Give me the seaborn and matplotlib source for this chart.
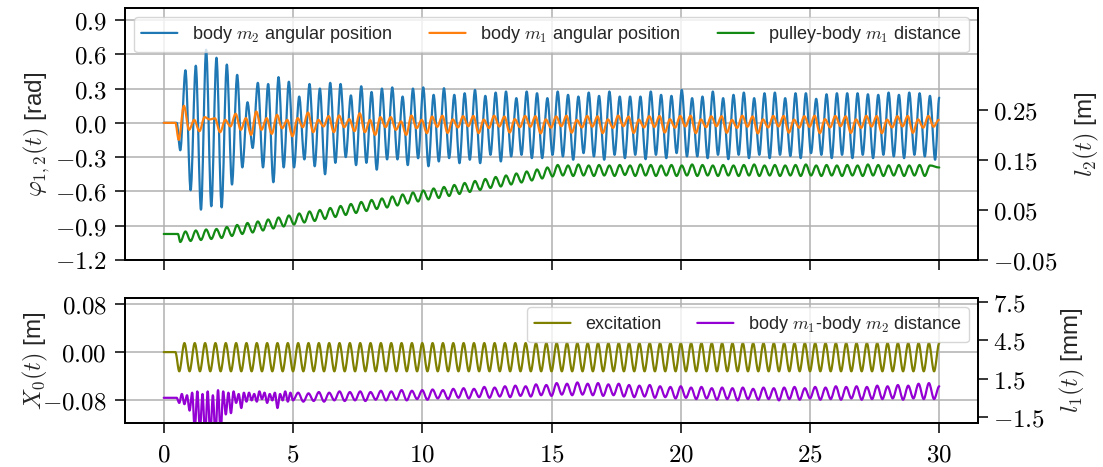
import numpy as np
import pandas as pd
import matplotlib
matplotlib.use("Agg")
import matplotlib.pyplot as plt
from matplotlib.ticker import FixedLocator, FuncFormatter
from matplotlib.patheffects import AbstractPathEffect
from matplotlib.path import Path
import seaborn as sns

# ---------------------------------------------------------------- data
T_END = 30.0          # end of simulation [s]
HALF = 0.2            # spacing between successive extrema [s]

# body m2 angular position [rad]: successive extrema from t = 0.64 s
phi2_start = 0.64
phi2_ext = [
    -0.24, 0.46, -0.59, 0.50, -0.76, 0.64, -0.73, 0.57, -0.74, 0.51,
    -0.54, 0.42, -0.39, 0.18, -0.22, 0.35, -0.39, 0.34, -0.52, 0.40,
    -0.39, 0.36, -0.39, 0.23, -0.32, 0.34, -0.38, 0.30, -0.45, 0.35,
    -0.35, 0.34, -0.30, 0.24, -0.37, 0.32, -0.35, 0.27, -0.41, 0.30,
    -0.32, 0.31, -0.32, 0.23, -0.37, 0.30, -0.31, 0.31, -0.38,
    0.245, -0.338, 0.303, -0.309, 0.245, -0.353, 0.259, -0.323, 0.288, -0.353,
    0.236, -0.280, 0.265, -0.338, 0.274, -0.294, 0.216, -0.280, 0.274, -0.309,
    0.259, -0.309, 0.216, -0.280, 0.274, -0.294, 0.245, -0.323, 0.230, -0.265,
    0.265, -0.294, 0.236, -0.323, 0.274, -0.280, 0.230, -0.309, 0.230, -0.280,
    0.230, -0.318, 0.274, -0.280, 0.245, -0.309, 0.236, -0.265, 0.288, -0.294,
    0.216, -0.294, 0.230, -0.309, 0.274, -0.280, 0.216, -0.318, 0.245, -0.280,
    0.265, -0.309, 0.216, -0.280, 0.259, -0.309, 0.265, -0.280, 0.216, -0.290,
    0.259, -0.309, 0.259, -0.265, 0.210, -0.280, 0.250, -0.309, 0.259, -0.280,
    0.259, -0.309, 0.259, -0.280, 0.250, -0.309, 0.245, -0.280, 0.265, -0.294,
    0.245, -0.309, 0.265, -0.280, 0.259, -0.294, 0.236, -0.323,
]
phi2_end = 0.22

# body m1 angular position [rad]: successive extrema from t = 0.58 s
phi1_start = 0.58
phi1_ext = [
    -0.149, 0.149, -0.061, 0.026, -0.073, 0.050, 0.030, 0.040, -0.082, 0.026,
    -0.032, 0.079, -0.061, 0.041, -0.105, 0.099, -0.061, 0.041, -0.096, 0.070,
    -0.047, 0.026, -0.117, 0.041, -0.038, 0.090, -0.082, 0.026, -0.032, 0.059,
    -0.082, 0.064, -0.038, 0.032, -0.073, 0.084, -0.082, 0.026, -0.105, 0.050,
    -0.038, 0.050, -0.061, 0.012, -0.105, 0.064, -0.047, 0.026, -0.090,
    0.055, -0.035, 0.062, -0.088, 0.030, -0.040,
    0.058, -0.030, 0.060, -0.090, 0.028, -0.045,
    0.062, -0.032, 0.055, -0.085, 0.032, -0.038,
    0.060, -0.035, 0.058, -0.092, 0.030, -0.042,
    0.056, -0.030, 0.062, -0.086, 0.025, -0.040,
    0.060, -0.034, 0.057, -0.090, 0.030, -0.044,
    0.063, -0.030, 0.055, -0.088, 0.028, -0.040,
    0.058, -0.036, 0.060, -0.085, 0.032, -0.042,
    0.060, -0.032, 0.062, -0.090, 0.030, -0.038,
    0.057, -0.030, 0.058, -0.087, 0.026, -0.044,
    0.062, -0.034, 0.056, -0.092, 0.030, -0.040,
    0.060, -0.032, 0.060, -0.086, 0.028, -0.042,
    0.058, -0.035, 0.062, -0.090, 0.032, -0.040,
    0.060, -0.030, 0.057, -0.088, 0.030, -0.044,
    0.061, -0.033, 0.059, -0.090, 0.028, -0.040,
    0.058, -0.032, 0.060, -0.087, 0.030, -0.042,
    0.060, -0.034, 0.026,
]

# pulley-body m1 distance l2 [m]: rest value, then extrema from t = 0.64 s
l2_rest = 0.002
l2_start = 0.64
l2_ext = [
    -0.014, 0.007, -0.012, 0.009, -0.010, 0.011, -0.008, 0.012, -0.006, 0.016,
    -0.002, 0.020, 0.002, 0.024, 0.005, 0.027, 0.009, 0.031, 0.013, 0.035,
    0.017, 0.039, 0.021, 0.043, 0.025, 0.047, 0.028, 0.050, 0.032, 0.054,
    0.036, 0.058, 0.040, 0.062, 0.044, 0.066, 0.048, 0.070, 0.052, 0.073,
    0.055, 0.077, 0.059, 0.081, 0.063, 0.085, 0.067, 0.089, 0.071, 0.093,
    0.074, 0.096, 0.078, 0.100, 0.082, 0.104, 0.086, 0.108, 0.090, 0.112,
    0.094, 0.116, 0.097, 0.119, 0.101, 0.123, 0.105, 0.127, 0.109, 0.131,
    0.113, 0.135, 0.117,
    0.140, 0.119, 0.139, 0.118, 0.141, 0.119, 0.139, 0.118, 0.140, 0.119,
    0.139, 0.118, 0.140, 0.120, 0.139, 0.118, 0.141, 0.119, 0.140, 0.118,
    0.139, 0.119, 0.140, 0.118, 0.139, 0.119, 0.141, 0.118, 0.140, 0.119,
    0.139, 0.118, 0.140, 0.119, 0.139, 0.118, 0.140, 0.119, 0.141, 0.118,
    0.139, 0.119, 0.140, 0.118, 0.139, 0.119, 0.140, 0.118, 0.141, 0.119,
    0.139, 0.118, 0.140, 0.119, 0.139, 0.118, 0.140, 0.119, 0.139, 0.118,
    0.141, 0.119, 0.140, 0.118, 0.139, 0.119, 0.140, 0.118, 0.139, 0.119,
    0.140, 0.118, 0.139,
]
l2_end = 0.135

# excitation X0 [m]: switched on at t = 0.45 s, first trough at 0.6 s
x0_on = 0.45
x0_start = 0.60
x0_troughs = [-0.032] * 74
x0_peaks = [0.015] * 74

# body m1-body m2 distance l1 [mm]
l1_on = 0.4
l1_early_start = 0.5
l1_early_step = 0.1
l1_early = [
    0.0, -0.4, 0.3, -0.5, 0.2, -1.0, 0.4, -2.5, 0.5, -2.5,
    0.3, -3.0, 0.5, -3.0, 0.2, -3.0, 0.6, -2.8, 0.5, -1.3,
    0.4, -1.2, 0.5, -0.4, 0.3, -0.8, 0.4, -0.3, 0.4, -0.2,
    0.3, -0.3, 0.5, -0.1, 0.4, -0.4, 0.3, -0.2, 0.4, -0.8,
    0.3, -0.2, 0.5, -0.3, 0.4, -0.2,
]
l1_start = 5.2
l1_peaks = [
    0.40, 0.35, 0.45, 0.40, 0.50, 0.45, 0.50, 0.45, 0.55, 0.50,
    0.60, 0.55, 0.60, 0.65, 0.60, 0.70, 0.75, 0.70, 0.85, 0.80,
    0.90, 0.95, 0.90, 1.05, 1.00, 1.15, 1.10, 1.20, 1.10, 1.15,
    1.05, 1.10, 1.00, 0.95, 1.00, 0.90, 0.85, 0.90, 0.80, 0.85,
    0.75, 0.80, 0.75, 0.80, 0.70, 0.80, 0.75, 0.80, 0.85, 0.75,
    0.85, 0.80, 0.90, 0.85, 0.90, 0.85, 0.95, 0.90, 1.00, 0.95,
    1.10, 1.15,
]
l1_troughs = [
    -0.30, -0.25, -0.30, -0.20, -0.25, -0.20, -0.25, -0.15, -0.20, -0.15,
    -0.20, -0.10, -0.15, -0.05, -0.10, 0.00, -0.05, 0.05, 0.00, 0.10,
    0.05, 0.15, 0.10, 0.20, 0.15, 0.25, 0.20, 0.25, 0.20, 0.15,
    0.20, 0.10, 0.05, 0.10, 0.00, 0.05, -0.05, 0.00, -0.10, -0.05,
    -0.15, -0.10, -0.20, -0.10, -0.15, -0.10, -0.20, -0.10, -0.15, -0.05,
    -0.15, -0.10, -0.15, -0.05, -0.15, -0.10, -0.10, -0.05, -0.15, -0.05,
    -0.10, -0.10,
]
l1_end = 0.9


def interleave(first, second):
    out = np.empty(len(first) + len(second))
    out[0::2] = first
    out[1::2] = second
    return out


def extrema_series(start, step, values, head=(), tail=()):
    t = start + step * np.arange(len(values))
    th = [p[0] for p in head]
    vh = [p[1] for p in head]
    tt = [p[0] for p in tail]
    vt = [p[1] for p in tail]
    return (np.concatenate([th, t, tt]), np.concatenate([vh, values, vt]))


t_phi2, v_phi2 = extrema_series(phi2_start, HALF, phi2_ext,
                                head=[(0.0, 0.0), (0.5, 0.0)],
                                tail=[(T_END, phi2_end)])
t_phi1, v_phi1 = extrema_series(phi1_start, HALF, phi1_ext,
                                head=[(0.0, 0.0), (0.45, 0.0)])
t_l2, v_l2 = extrema_series(l2_start, HALF, l2_ext,
                            head=[(0.0, l2_rest), (0.55, l2_rest)],
                            tail=[(T_END, l2_end)])
t_x0, v_x0 = extrema_series(x0_start, HALF, interleave(x0_troughs, x0_peaks),
                            head=[(0.0, 0.0), (x0_on, 0.0)])
t_l1a, v_l1a = extrema_series(l1_early_start, l1_early_step, l1_early,
                              head=[(0.0, 0.0), (l1_on, 0.0)])
t_l1b, v_l1b = extrema_series(l1_start, HALF, interleave(l1_peaks, l1_troughs),
                              tail=[(T_END, l1_end)])
t_l1 = np.concatenate([t_l1a, t_l1b])
v_l1 = np.concatenate([v_l1a, v_l1b])

top_left = pd.concat([
    pd.DataFrame({"t": t_phi2, "v": v_phi2, "s": r"body $m_2$ angular position"}),
    pd.DataFrame({"t": t_phi1, "v": v_phi1, "s": r"body $m_1$ angular position"}),
])
top_right = pd.DataFrame({"t": t_l2, "v": v_l2, "s": r"pulley-body $m_1$ distance"})
bot_left = pd.DataFrame({"t": t_x0, "v": v_x0, "s": "excitation"})
bot_right = pd.DataFrame({"t": t_l1, "v": v_l1, "s": r"body $m_1$-body $m_2$ distance"})


class RoundedExtrema(AbstractPathEffect):
    """Stroke a line through successive extrema as cubic arcs that are
    level at every vertex, so each half-swing is drawn as a smooth arc."""

    def draw_path(self, renderer, gc, tpath, affine, rgbFace=None):
        v = np.asarray(tpath.vertices)
        if len(v) < 3:
            renderer.draw_path(gc, tpath, affine, rgbFace)
            return
        p0, p1 = v[:-1], v[1:]
        d = (p1[:, 0] - p0[:, 0]) / 3.0
        verts = np.empty((1 + 3 * len(p0), 2))
        verts[0] = v[0]
        verts[1::3] = np.column_stack([p0[:, 0] + d, p0[:, 1]])
        verts[2::3] = np.column_stack([p1[:, 0] - d, p1[:, 1]])
        verts[3::3] = p1
        codes = np.full(len(verts), Path.CURVE4, dtype=Path.code_type)
        codes[0] = Path.MOVETO
        renderer.draw_path(gc, Path(verts, codes), affine, rgbFace)


# ---------------------------------------------------------------- style
sns.set_theme(style="ticks")
plt.rcParams.update({
    "font.family": ["Liberation Sans", "DejaVu Sans"],
    "mathtext.fontset": "cm",
    "axes.edgecolor": "black",
    "axes.linewidth": 1.3,
    "axes.grid": True,
    "grid.color": "#b0b0b0",
    "grid.linewidth": 1.1,
    "xtick.color": "black",
    "ytick.color": "black",
    "xtick.major.size": 7.5,
    "ytick.major.size": 7.5,
    "xtick.major.width": 1.1,
    "ytick.major.width": 1.1,
    "xtick.major.pad": 6.5,
    "ytick.major.pad": 3.5,
    "legend.fontsize": 13,
    "legend.framealpha": 0.8,
    "legend.edgecolor": "#cccccc",
    "lines.solid_joinstyle": "round",
})

LW = 1.6
fig = plt.figure(figsize=(11.03, 4.67), dpi=100)
ax1 = fig.add_axes([0.1133, 0.4433, 0.7734, 0.5396])
ax3 = fig.add_axes([0.1133, 0.0942, 0.7734, 0.2677])
ax2 = ax1.twinx()
ax4 = ax3.twinx()

sns.lineplot(data=top_left, x="t", y="v", hue="s", ax=ax1, sort=False,
             estimator=None, palette=["#1f77b4", "#ff7f0e"], linewidth=LW)
sns.lineplot(data=top_right, x="t", y="v", hue="s", ax=ax2, sort=False,
             estimator=None, palette=["#138a13"], linewidth=LW)
sns.lineplot(data=bot_left, x="t", y="v", hue="s", ax=ax3, sort=False,
             estimator=None, palette=["#808000"], linewidth=LW)
sns.lineplot(data=bot_right, x="t", y="v", hue="s", ax=ax4, sort=False,
             estimator=None, palette=["#9400d3"], linewidth=LW)

for ax in (ax1, ax2, ax3, ax4):
    if ax.get_legend() is not None:
        ax.get_legend().remove()
    for line in ax.get_lines():
        line.set_path_effects([RoundedExtrema()])
    ax.set_xlim(-1.5, 31.5)
    ax.set_xlabel("")
for ax in (ax2, ax4):
    ax.grid(False)

x_ticks = [0, 5, 10, 15, 20, 25, 30]


def math_fmt(fmt):
    return FuncFormatter(lambda v, p: "$" + format(v, fmt) + "$")


TICK_FS = 18
ax1.xaxis.set_major_locator(FixedLocator(x_ticks))
ax1.tick_params(axis="x", labelbottom=False)
ax3.xaxis.set_major_locator(FixedLocator(x_ticks))
ax3.xaxis.set_major_formatter(math_fmt(".0f"))

ax1.set_ylim(-1.2, 1.005)
ax1.yaxis.set_major_locator(FixedLocator([-1.2, -0.9, -0.6, -0.3, 0.0, 0.3, 0.6, 0.9]))
ax1.yaxis.set_major_formatter(math_fmt(".1f"))
ax2.set_ylim(-0.05, 0.454)
ax2.yaxis.set_major_locator(FixedLocator([-0.05, 0.05, 0.15, 0.25]))
ax2.yaxis.set_major_formatter(math_fmt(".2f"))
ax3.set_ylim(-0.118, 0.09)
ax3.yaxis.set_major_locator(FixedLocator([-0.08, 0.0, 0.08]))
ax3.yaxis.set_major_formatter(math_fmt(".2f"))
ax4.set_ylim(-1.97, 7.8)
ax4.yaxis.set_major_locator(FixedLocator([-1.5, 1.5, 4.5, 7.5]))
ax4.yaxis.set_major_formatter(math_fmt(".1f"))

for ax in (ax1, ax2, ax3, ax4):
    ax.tick_params(labelsize=TICK_FS)
for ax in (ax1, ax3):
    ax.tick_params(axis="y", pad=5.5)

LABEL_FS = 17.5
ax1.set_ylabel(r"$\varphi_{1,2}(t)$ [rad]", fontsize=LABEL_FS)
ax2.set_ylabel(r"$l_2(t)$ [m]", fontsize=LABEL_FS)
ax3.set_ylabel(r"$X_0(t)$ [m]", fontsize=LABEL_FS)
ax4.set_ylabel(r"$l_1(t)$ [mm]", fontsize=LABEL_FS)
ax1.yaxis.set_label_coords(-0.085, 0.5)
ax3.yaxis.set_label_coords(-0.088, 0.5)
ax2.yaxis.set_label_coords(1.110, 0.5)
ax4.yaxis.set_label_coords(1.094, 0.5)

h1, l1 = ax1.get_legend_handles_labels()
h2, l2 = ax2.get_legend_handles_labels()
ax2.legend(h1 + h2, l1 + l2, loc="upper left", ncol=3, mode="expand",
           bbox_to_anchor=(0, 0, 1, 1), handlelength=2.0)
h3, l3 = ax3.get_legend_handles_labels()
h4, l4 = ax4.get_legend_handles_labels()
ax4.legend(h3 + h4, l3 + l4, loc="upper right", ncol=2, handlelength=2.0)

fig.savefig("out.png", dpi=100)
